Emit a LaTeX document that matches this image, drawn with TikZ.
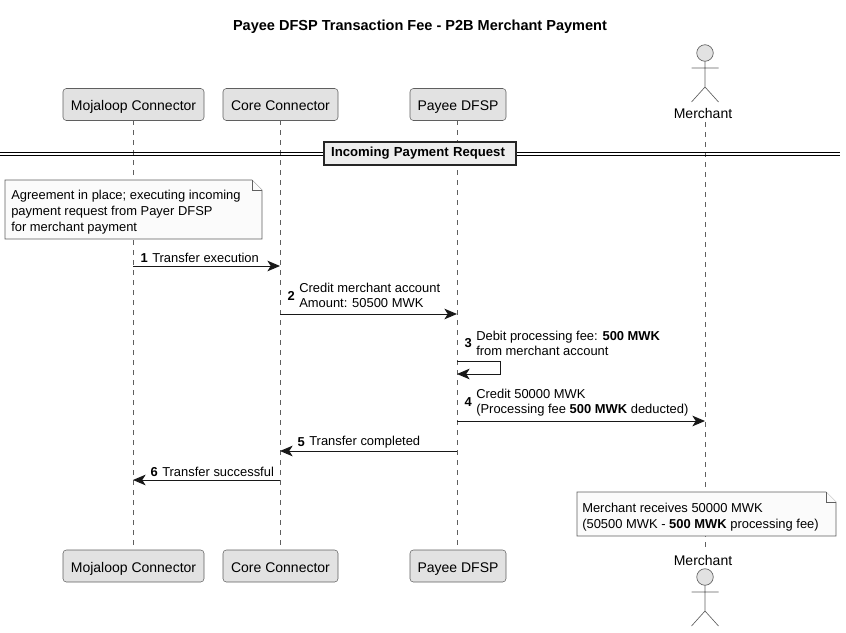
\documentclass[tikz,border=0pt]{standalone}
\usepackage{fontspec}
\setmainfont{Liberation Sans}
\usetikzlibrary{arrows.meta}
\definecolor{partfill}{HTML}{E2E2E2}
\definecolor{partline}{HTML}{5F5F5F}
\definecolor{notefill}{HTML}{FBFBFB}
\definecolor{lifeline}{HTML}{5F5F5F}
\definecolor{msgc}{HTML}{181818}
\definecolor{divfill}{HTML}{EEEEEE}
\tikzset{
  x=0.75pt,y=-0.75pt,
  partbox/.style={draw=partline,fill=partfill,rounded corners=2.5pt,line width=0.4pt,minimum height=24pt,inner sep=0pt,text height=9.5pt,text depth=0.5pt,font=\fontsize{10.5}{12}\selectfont,text=black},
  life/.style={draw=lifeline,line width=0.4pt,dash pattern=on 3.75pt off 3.75pt},
  msg/.style={draw=msgc,line width=0.7pt,-{Stealth[length=9.5pt,width=8pt,inset=2.6pt]}},
  msgtxt/.style={anchor=west,inner sep=0pt,align=left,font=\fontsize{9.7}{11.4}\selectfont,text=black},
  notetxt/.style={anchor=west,inner sep=0pt,align=left,font=\fontsize{9.7}{12}\selectfont,text=black},
  numtxt/.style={anchor=east,inner sep=0pt,font=\fontsize{9.7}{11}\selectfont\bfseries,text=black},
  notefold/.style={draw=partline,fill=notefill,line width=0.4pt},
  actorname/.style={inner sep=0pt,text height=7.5pt,text depth=0pt,font=\fontsize{10.5}{12}\selectfont,text=black},
  actorline/.style={draw=partline,line width=0.5pt},
}
\newcommand{\actorfig}[2]{%
  \draw[actorline,fill=partfill] (#1,#2) circle[radius=6.2pt];
  \draw[actorline] (#1,#2+8.3)--(#1,#2+34) (#1-13.5,#2+15)--(#1+13.5,#2+15)
    (#1-13.5,#2+49)--(#1,#2+34)--(#1+13.5,#2+49);
}
\begin{document}
\begin{tikzpicture}
\useasboundingbox (0,0) rectangle (846,632);
\node[inner sep=0pt,font=\fontsize{10.9}{12}\selectfont\bfseries] (title) at (420,26.5) {Payee DFSP Transaction Fee - P2B Merchant Payment};

% lifeline ends
\coordinate (lm) at (133,120); \coordinate (lmb) at (133,550);
\coordinate (lc) at (280,120); \coordinate (lcb) at (280,550);
\coordinate (lp) at (457,120); \coordinate (lpb) at (457,550);
\coordinate (la) at (705,122); \coordinate (lab) at (705,550);
\draw[life] (lm)--(lmb);
\draw[life] (lc)--(lcb);
\draw[life] (lp)--(lpb);
\draw[life] (la)--(lab);

% participants
\node[partbox,minimum width=105.75pt] (mt) at (133.5,104.5) {Mojaloop Connector};
\node[partbox,minimum width=86.25pt] (ct) at (280.5,104.5) {Core Connector};
\node[partbox,minimum width=72pt] (pt) at (458,104.5) {Payee DFSP};
\node[partbox,minimum width=105.75pt] (mb) at (133.5,566) {Mojaloop Connector};
\node[partbox,minimum width=86.25pt] (cb) at (280.5,566) {Core Connector};
\node[partbox,minimum width=72pt] (pb) at (458,566) {Payee DFSP};

% actors
\actorfig{705}{53}
\node[actorname] (at) at (703,113) {Merchant};
\node[actorname] (ab) at (703,560) {Merchant};
\actorfig{705}{577}

% divider
\draw[black,line width=0.75pt] (0,152)--(840,152) (0,155.5)--(840,155.5);
\node[draw=black!85,fill=divfill,line width=1.3pt,text width=133.2pt,inner xsep=5.6pt,inner ysep=0pt,align=left,minimum height=17.25pt,font=\fontsize{9.85}{12}\selectfont\bfseries] (div) at (420,153.3) {Incoming Payment Request};

% notes
\draw[notefold] (5,180)--(252,180)--(262,190)--(262,239)--(5,239)--cycle;
\draw[notefold] (252,180)--(252,190)--(262,190);
\node[notetxt] (n1) at (11,212) {Agreement in place; executing incoming\\payment request from Payer DFSP\\for merchant payment};
\draw[notefold] (577,492)--(826,492)--(836,502)--(836,536)--(577,536)--cycle;
\draw[notefold] (826,492)--(826,502)--(836,502);
\node[notetxt] (n2) at (582,517) {Merchant receives 50000 MWK\\(50500 MWK - \textbf{500 MWK} processing fee)};

% messages
\coordinate (a1) at (133,266); \coordinate (b1) at (280,266);
\draw[msg] (a1)--(b1);
\node[numtxt] (m1n) at (148,258) {1};
\node[msgtxt] (m1) at (152,258) {Transfer execution};

\coordinate (a2) at (280,314); \coordinate (b2) at (457,314);
\draw[msg] (a2)--(b2);
\node[numtxt] (m2n) at (295,296) {2};
\node[msgtxt] (m2) at (299,295.5) {Credit merchant account\\Amount: 50500 MWK};

\coordinate (a3) at (457,361); \coordinate (b3) at (500,361); \coordinate (c3) at (500,374); \coordinate (d3) at (457,374);
\draw[msg] (a3)--(b3)--(c3)--(d3);
\node[numtxt] (m3n) at (472,343) {3};
\node[msgtxt] (m3) at (476,343.5) {Debit processing fee: \textbf{500 MWK}\\from merchant account};

\coordinate (a4) at (457,421); \coordinate (b4) at (705,421);
\draw[msg] (a4)--(b4);
\node[numtxt] (m4n) at (472,402) {4};
\node[msgtxt] (m4) at (476,402.5) {Credit 50000 MWK\\(Processing fee \textbf{500 MWK} deducted)};

\coordinate (a5) at (457,451); \coordinate (b5) at (280,451);
\draw[msg] (a5)--(b5);
\node[numtxt] (m5n) at (305,442) {5};
\node[msgtxt] (m5) at (309,442) {Transfer completed};

\coordinate (a6) at (280,480); \coordinate (b6) at (133,480);
\draw[msg] (a6)--(b6);
\node[numtxt] (m6n) at (158,472) {6};
\node[msgtxt] (m6) at (162,472) {Transfer successful};
\end{tikzpicture}
\end{document}
